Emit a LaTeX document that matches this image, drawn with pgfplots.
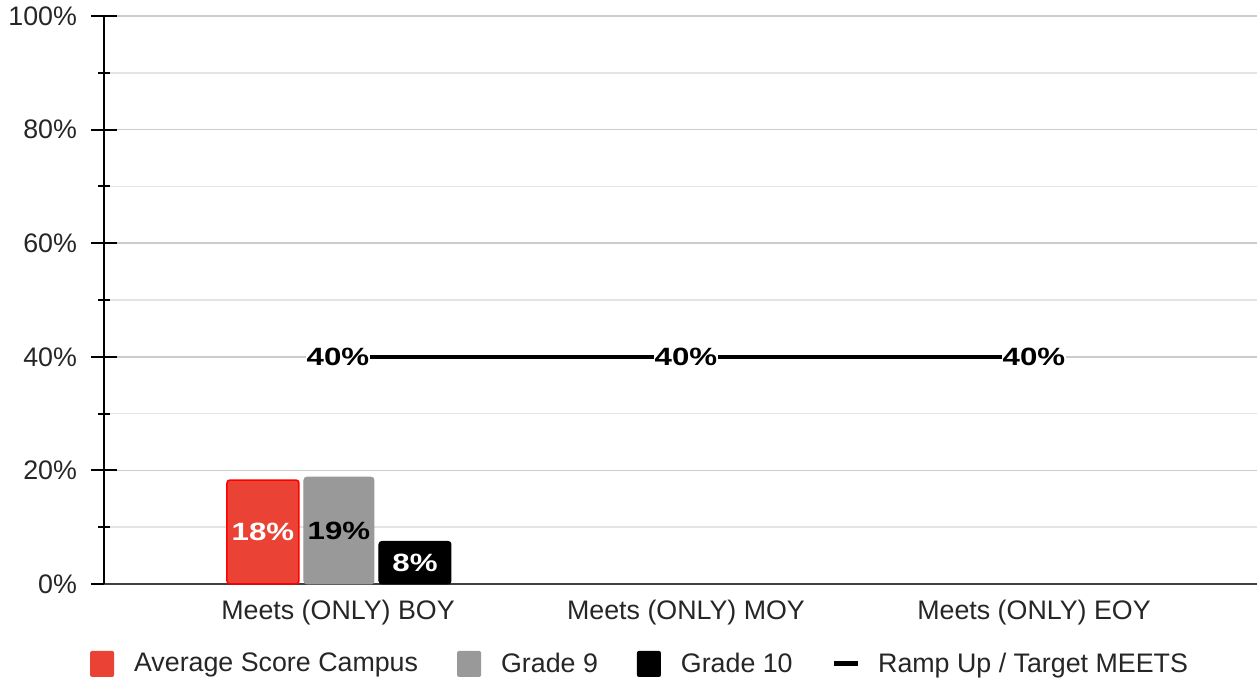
\documentclass[border=0pt]{standalone}
\usepackage{pgfplots}
\pgfplotsset{compat=1.18}
\usepackage{fontspec}
\setmainfont{Liberation Sans}
\newfontfamily\lblfont{Liberation Sans}[FakeStretch=1.25]
\definecolor{campus}{HTML}{EA4335}
\definecolor{gradenine}{HTML}{999999}
\definecolor{gridmajor}{HTML}{CCCCCC}
\definecolor{gridminor}{HTML}{E4E4E4}

\begin{document}
\begin{tikzpicture}
\begin{axis}[
    scale only axis,
    width=576.5pt, height=284pt,
    xmin=-0.6724, xmax=2.6408,
    ymin=0, ymax=100,
    /pgf/number format/assume math mode=true,
    axis x line=bottom, axis y line=left,
    axis line style={-},
    x axis line style={draw=black!75, line width=1pt},
    y axis line style={draw=black, line width=1pt},
    xtick={0,1,2},
    xticklabels={Meets (ONLY) BOY, Meets (ONLY) MOY, Meets (ONLY) EOY},
    xtick style={draw=none},
    xticklabel style={yshift=2pt},
    ytick={0,20,40,60,80,100},
    yticklabels={0\%,20\%,40\%,60\%,80\%,100\%},
    yticklabel style={xshift=-3.5pt},
    minor ytick={10,30,50,70,90},
    tick align=center,
    major tick length=13pt, minor tick length=6pt,
    ytick style={draw=black, line width=1pt},
    ymajorgrids, yminorgrids,
    major grid style={draw=gridmajor, line width=0.75pt},
    minor grid style={draw=gridminor, line width=0.75pt},
    tick label style={font=\fontsize{13.4}{15}\selectfont, text=black!85},
    legend style={at={(0.4636,-0.1408)}, anchor=center, draw=none,
        font=\fontsize{13.4}{15}\selectfont, text=black!85,
        /tikz/every even column/.append style={column sep=17.5pt}},
    legend columns=-1,
    clip=false,
]

\addplot[ybar, bar width=36pt, bar shift=-37.5pt, fill=campus, draw=red, line width=0.75pt,
    rounded corners=1.5pt,
    visualization depends on={rawy \as \ry},
    nodes near coords={\pgfmathprintnumber[fixed,precision=0]{\pgfplotspointmeta}\%},
    every node near coord/.append style={font=\lblfont\bfseries\fontsize{12.5}{14}\selectfont,
        text=white, anchor=center, xshift=-37.5pt, yshift=-1.42pt*\ry},
    legend image code/.code={\path[draw=none, fill=none] (-2.5pt,0pt) -- (20pt,0pt);
        \fill[campus, draw=none, rounded corners=1pt] (0pt,-6.5pt) rectangle (12pt,6.5pt);}]
    coordinates {(0,18.3)};
\addlegendentry{Average Score Campus}

\addplot[ybar, bar width=35pt, bar shift=0.5pt, fill=gradenine, draw=gradenine, line width=0.5pt,
    rounded corners=1.5pt,
    visualization depends on={rawy \as \ry},
    nodes near coords={\pgfmathprintnumber[fixed,precision=0]{\pgfplotspointmeta}\%},
    every node near coord/.append style={font=\lblfont\bfseries\fontsize{12.5}{14}\selectfont,
        text=black, anchor=center, xshift=0.5pt, yshift=-1.42pt*\ry},
    legend image code/.code={\path[draw=none, fill=none] (0pt,0pt) -- (20pt,0pt);
        \fill[gradenine, draw=none, rounded corners=1pt] (0pt,-6.5pt) rectangle (12pt,6.5pt);}]
    coordinates {(0,18.8)};
\addlegendentry{Grade 9}

\addplot[ybar, bar width=36pt, bar shift=38.5pt, fill=black, draw=black, line width=0.5pt,
    rounded corners=1.5pt,
    visualization depends on={rawy \as \ry},
    nodes near coords={\pgfmathprintnumber[fixed,precision=0]{\pgfplotspointmeta}\%},
    every node near coord/.append style={font=\lblfont\bfseries\fontsize{12.5}{14}\selectfont,
        text=white, anchor=center, xshift=38.5pt, yshift=-1.42pt*\ry},
    legend image code/.code={\path[draw=none, fill=none] (0pt,0pt) -- (20pt,0pt);
        \fill[black, draw=none, rounded corners=1pt] (0pt,-6.5pt) rectangle (12pt,6.5pt);}]
    coordinates {(0,7.5)};
\addlegendentry{Grade 10}

\addplot[black, line width=2pt, mark=none,
    nodes near coords={\pgfmathprintnumber[fixed,precision=0]{\pgfplotspointmeta}\%},
    every node near coord/.append style={font=\lblfont\bfseries\fontsize{12.5}{14}\selectfont,
        text=black, anchor=center, fill=white, inner sep=0.5pt},
    legend image code/.code={\path[draw=none, fill=none] (0pt,0pt) -- (20pt,0pt);
        \draw[black, line width=2.5pt] (0pt,0pt) -- (12pt,0pt);}]
    coordinates {(0,40) (1,40) (2,40)};
\addlegendentry{Ramp Up / Target MEETS}

\coordinate (sw) at (rel axis cs:0,0);
\coordinate (ne) at (rel axis cs:1,1);
\end{axis}
\pgfresetboundingbox
\path[use as bounding box] (sw) ++(-52pt,-49.5pt) rectangle ([yshift=8pt]ne);
\end{tikzpicture}
\end{document}
